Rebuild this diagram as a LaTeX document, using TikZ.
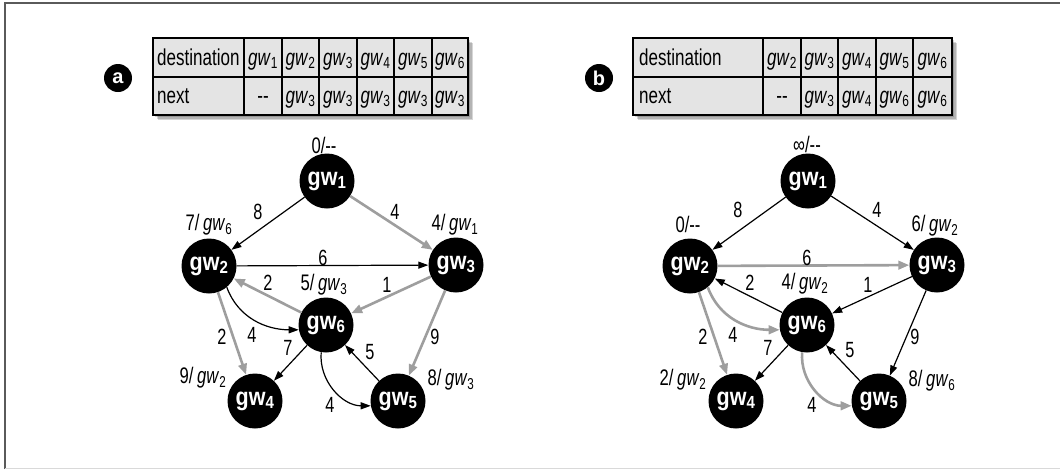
\documentclass[tikz,border=0pt]{standalone}
\usepackage{fontspec}
\setmainfont{Liberation Sans}
\newfontfamily\cnd[FakeStretch=0.74]{Liberation Sans}
\newfontfamily\ndf[FakeStretch=0.86]{Liberation Sans}
\usetikzlibrary{arrows.meta}
\definecolor{pgray}{RGB}{158,158,158}
\definecolor{cellgray}{RGB}{228,228,228}
\definecolor{framegray}{RGB}{90,90,90}
\newcommand\gwi[1]{\textit{gw}\textsubscript{#1}}
\newcommand\gwb[1]{\textbf{gw}\textsubscript{\textbf{#1}}}
\tikzset{
  gwnode/.style={circle, fill=black, minimum size=55pt, inner sep=0pt, text=white,
    font=\ndf\fontsize{25}{25}\selectfont\bfseries},
  lbl/.style={font=\cnd\fontsize{22.5}{22.5}\selectfont, inner sep=0pt},
  elbl/.style={font=\cnd\fontsize{22}{22}\selectfont, inner sep=0pt},
  celltxt/.style={font=\cnd\fontsize{23}{23}\selectfont, inner sep=0pt, anchor=base},
  blk/.style={draw=black, line width=1.2pt, -{Triangle[length=10pt,width=7pt]}},
  gry/.style={draw=pgray, line width=2.6pt, -{Triangle[length=11pt,width=8.5pt]}},
  tabbox/.style={draw=black, line width=2.6pt, fill=cellgray},
  tabline/.style={draw=black, line width=2.2pt},
  tabshadow/.style={fill=black, opacity=0.16},
  letter/.style={circle, fill=black, minimum size=28pt, inner sep=0pt, text=white,
    font=\fontsize{20}{20}\selectfont\bfseries},
}
\begin{document}
\begin{tikzpicture}[x=1pt,y=1pt]
\useasboundingbox (0,0) rectangle (1060,-469);
% frame
\draw[framegray, line width=2pt] (5,-469) -- (5,-3) -- (1060,-3);
\draw[black!15, line width=1pt] (5,-468) -- (1060,-468);

% ---------------- panel a ----------------
\node[letter] (la) at (118,-78) {a};
\foreach \d in {2,3.5,5} {\fill[tabshadow] (153+\d,-38-\d) rectangle (468+\d,-115-\d);}
\draw[tabbox] (153,-38) rectangle (468,-115);
\draw[tabline] (153,-77) -- (468,-77);
\foreach \x in {244,282,319,357,394,432} {\draw[tabline] (\x,-38) -- (\x,-115);}
\node[celltxt, anchor=base west] (tad) at (157,-65) {destination};
\node[celltxt, anchor=base west] (tan) at (157,-103) {next};
\node[celltxt] (tad1) at (263,-65) {\gwi{1}};
\node[celltxt] (tad2) at (300.5,-65) {\gwi{2}};
\node[celltxt] (tad3) at (338,-65) {\gwi{3}};
\node[celltxt] (tad4) at (375.5,-65) {\gwi{4}};
\node[celltxt] (tad5) at (413,-65) {\gwi{5}};
\node[celltxt] (tad6) at (450,-65) {\gwi{6}};
\node[celltxt] (tan1) at (263,-103) {-{}-};
\node[celltxt] (tan2) at (300.5,-103) {\gwi{3}};
\node[celltxt] (tan3) at (338,-103) {\gwi{3}};
\node[celltxt] (tan4) at (375.5,-103) {\gwi{3}};
\node[celltxt] (tan5) at (413,-103) {\gwi{3}};
\node[celltxt] (tan6) at (450,-103) {\gwi{3}};

\node[gwnode] (a1) at (327,-181) {\gwb{1}};
\node[gwnode] (a2) at (209,-266) {\gwb{2}};
\node[gwnode] (a3) at (456,-265) {\gwb{3}};
\node[gwnode] (a6) at (326,-325) {\gwb{6}};
\node[gwnode] (a4) at (255,-401) {\gwb{4}};
\node[gwnode] (a5) at (398,-401) {\gwb{5}};

\draw[blk] (a1) -- (a2);
\draw[gry] (a1) -- (a3);
\draw[blk] (a2) -- (a3);
\draw[gry] (a6) -- (a2);
\draw[gry] (a3) -- (a6);
\draw[gry] (a2) -- (a4);
\draw[blk] (a2.-50) to[out=-70,in=180] (a6.190);
\draw[blk] (a6) -- (a4);
\draw[gry] (a3) -- (a5);
\draw[blk] (a5) -- (a6);
\draw[blk] (a6.-100) to[out=-95,in=180] (a5.190);

\node[lbl] (na1) at (324,-145) {0/-{}-};
\node[lbl] (na2) at (209,-225) {7/\,\gwi{6}};
\node[lbl] (na3) at (455,-225) {4/\,\gwi{1}};
\node[lbl] (na6) at (324,-285) {5/\,\gwi{3}};
\node[lbl] (na4) at (203,-378) {9/\,\gwi{2}};
\node[lbl] (na5) at (451,-380) {8/\,\gwi{3}};

\node[elbl] (ea12) at (258,-212) {8};
\node[elbl] (ea13) at (395,-212) {4};
\node[elbl] (ea23) at (323,-258) {6};
\node[elbl] (ea62) at (268,-283) {2};
\node[elbl] (ea36) at (387,-285) {1};
\node[elbl] (ea24) at (222,-337) {2};
\node[elbl] (ea26) at (252,-335) {4};
\node[elbl] (ea64) at (288,-348) {7};
\node[elbl] (ea35) at (435,-337) {9};
\node[elbl] (ea56) at (370,-352) {5};
\node[elbl] (ea65) at (330,-405) {4};

% ---------------- panel b ----------------
\node[letter] (lb) at (599,-78) {b};
\foreach \d in {2,3.5,5} {\fill[tabshadow] (633+\d,-38-\d) rectangle (952+\d,-115-\d);}
\draw[tabbox] (633,-38) rectangle (952,-115);
\draw[tabline] (633,-77) -- (952,-77);
\foreach \x in {763,801,838,876,913} {\draw[tabline] (\x,-38) -- (\x,-115);}
\node[celltxt, anchor=base west] (tbd) at (639,-65) {destination};
\node[celltxt, anchor=base west] (tbn) at (639,-103) {next};
\node[celltxt] (tbd2) at (782,-65) {\gwi{2}};
\node[celltxt] (tbd3) at (819.5,-65) {\gwi{3}};
\node[celltxt] (tbd4) at (857,-65) {\gwi{4}};
\node[celltxt] (tbd5) at (894.5,-65) {\gwi{5}};
\node[celltxt] (tbd6) at (932.5,-65) {\gwi{6}};
\node[celltxt] (tbn2) at (782,-103) {-{}-};
\node[celltxt] (tbn3) at (819.5,-103) {\gwi{3}};
\node[celltxt] (tbn4) at (857,-103) {\gwi{4}};
\node[celltxt] (tbn5) at (894.5,-103) {\gwi{6}};
\node[celltxt] (tbn6) at (932.5,-103) {\gwi{6}};

\node[gwnode] (b1) at (808,-181) {\gwb{1}};
\node[gwnode] (b2) at (690,-266) {\gwb{2}};
\node[gwnode] (b3) at (937,-265) {\gwb{3}};
\node[gwnode] (b6) at (807,-325) {\gwb{6}};
\node[gwnode] (b4) at (736,-401) {\gwb{4}};
\node[gwnode] (b5) at (879,-401) {\gwb{5}};

\draw[blk] (b1) -- (b2);
\draw[blk] (b1) -- (b3);
\draw[gry] (b2) -- (b3);
\draw[blk] (b6) -- (b2);
\draw[blk] (b3) -- (b6);
\draw[gry] (b2) -- (b4);
\draw[gry] (b2.-50) to[out=-70,in=180] (b6.190);
\draw[blk] (b6) -- (b4);
\draw[blk] (b3) -- (b5);
\draw[blk] (b5) -- (b6);
\draw[gry] (b6.-100) to[out=-95,in=180] (b5.190);

\node[lbl] (nb1) at (807,-144) {∞/-{}-};
\node[lbl] (nb2) at (688,-224) {0/-{}-};
\node[lbl] (nb3) at (935,-226) {6/\,\gwi{2}};
\node[lbl] (nb6) at (805,-284) {4/\,\gwi{2}};
\node[lbl] (nb4) at (683,-380) {2/\,\gwi{2}};
\node[lbl] (nb5) at (932,-381) {8/\,\gwi{6}};

\node[elbl] (eb12) at (738,-210) {8};
\node[elbl] (eb13) at (877,-210) {4};
\node[elbl] (eb23) at (807,-258) {6};
\node[elbl] (eb62) at (750,-283) {2};
\node[elbl] (eb36) at (868,-285) {1};
\node[elbl] (eb24) at (703,-337) {2};
\node[elbl] (eb26) at (733,-335) {4};
\node[elbl] (eb64) at (768,-348) {7};
\node[elbl] (eb35) at (915,-337) {9};
\node[elbl] (eb56) at (850,-350) {5};
\node[elbl] (eb65) at (812,-405) {4};
\end{tikzpicture}
\end{document}
